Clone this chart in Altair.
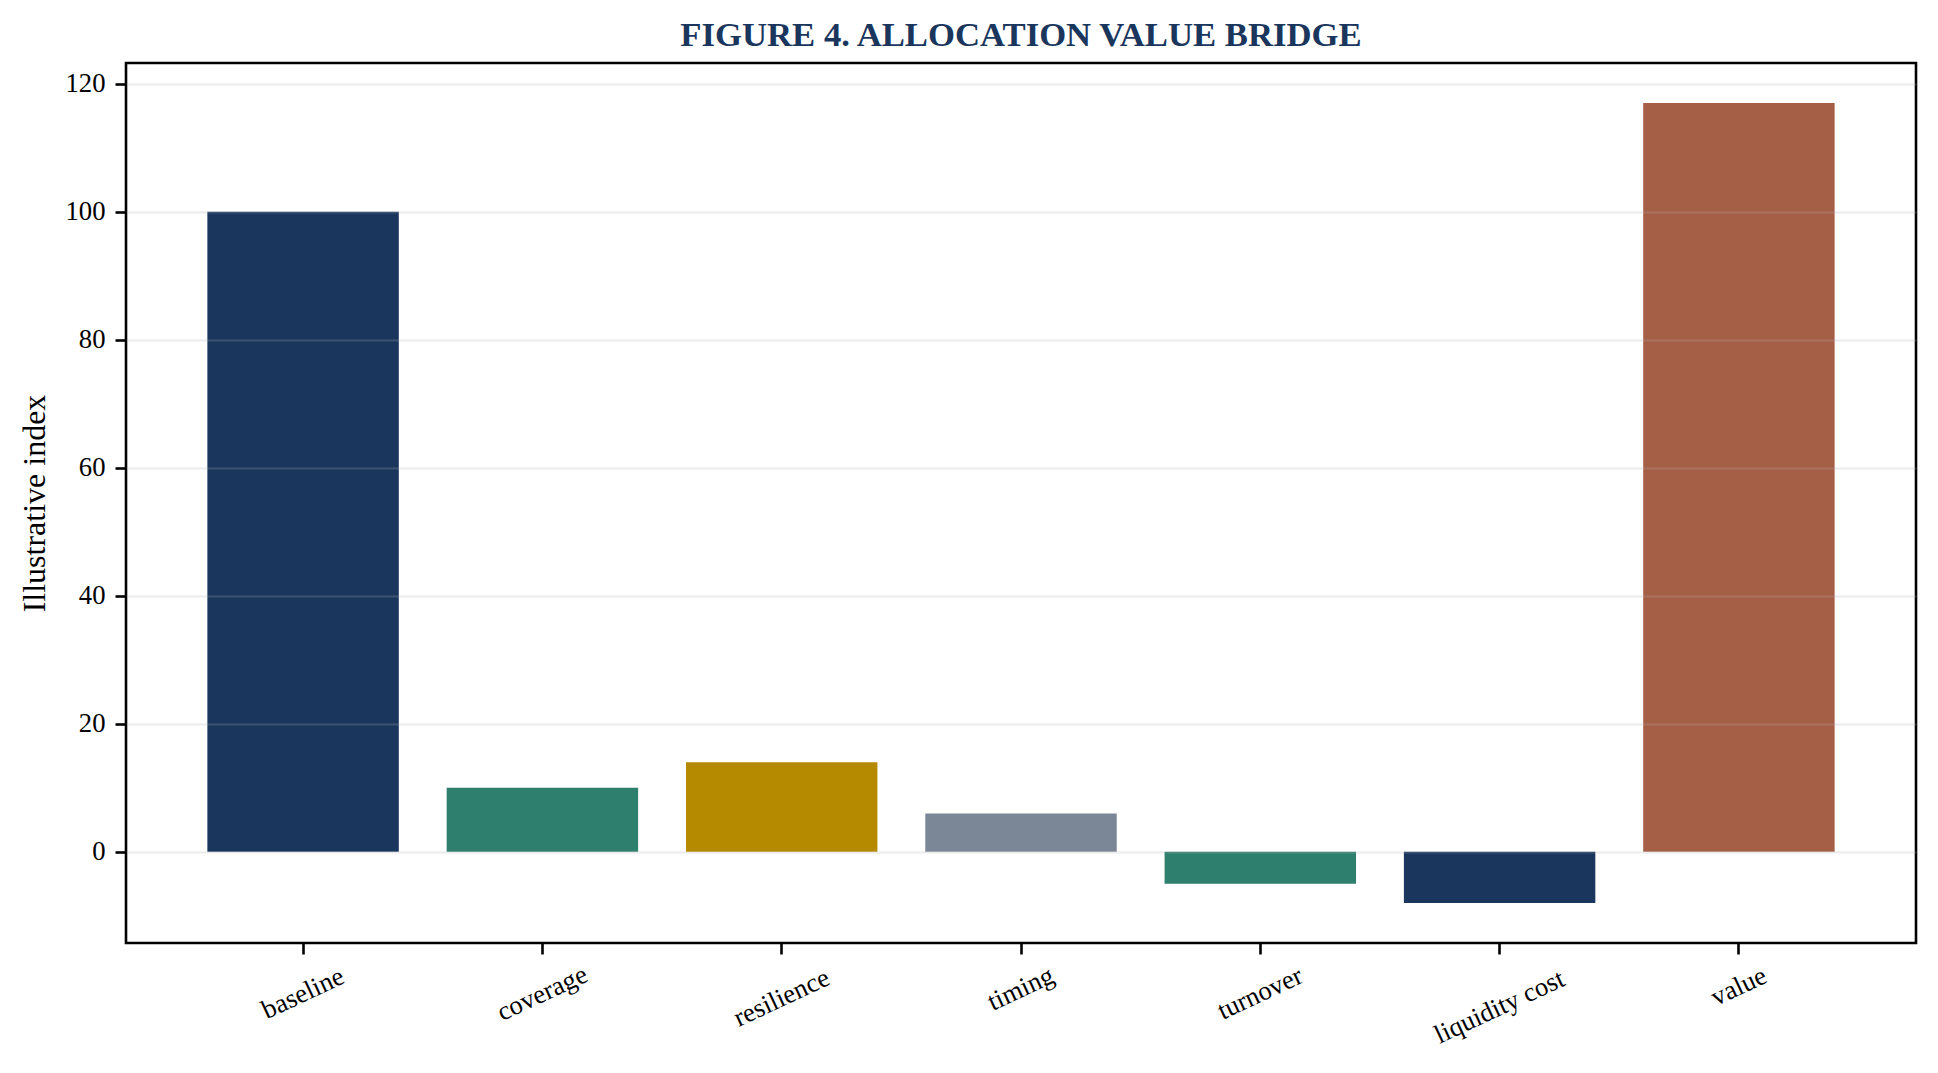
import altair as alt
import pandas as pd

categories = ["baseline", "coverage", "resilience", "timing", "turnover", "liquidity cost", "value"]
values = [100, 10, 14, 6, -5, -8, 117]
bar_colors = ["#1a365d", "#2e7f6e", "#b58900", "#7b8797", "#2e7f6e", "#1a365d", "#a65f47"]
y_ticks = [0, 20, 40, 60, 80, 100, 120]

SERIF = "Liberation Serif"

df = pd.DataFrame({"step": categories, "value": values})

x_axis = alt.Axis(
    labelAngle=335, labelAlign="center", labelBaseline="middle",
    labelPadding={"expr": "21 + 2.26 * length(datum.label)"},
    labelFont=SERIF, labelFontSize=26.7, labelColor="black",
    tickSize=11, tickWidth=2.6, tickColor="black",
    domain=False, grid=False,
)

y_axis = alt.Axis(
    values=y_ticks, labelFont=SERIF, labelFontSize=26.7, labelColor="black",
    labelPadding=10, tickSize=11, tickWidth=2.6, tickColor="black",
    domain=False, grid=True, gridColor="#b0b0b0", gridOpacity=0.25, gridWidth=2,
    titleFont=SERIF, titleFontSize=32, titleFontWeight="normal", titleColor="black",
    titleAngle=270, titleAlign="center", titleBaseline="middle",
    titleX=-92, titleY=440, zindex=1,
)

chart = alt.Chart(df).mark_bar().encode(
    x=alt.X("step:N", sort=categories, title=None,
            scale=alt.Scale(paddingInner=0.2, paddingOuter=0.34), axis=x_axis),
    y=alt.Y("value:Q", title="Illustrative index",
            scale=alt.Scale(domain=[-14.25, 123.25], nice=False, zero=False), axis=y_axis),
    y2=alt.datum(0),
    color=alt.Color("step:N", scale=alt.Scale(domain=categories, range=bar_colors), legend=None),
).properties(
    width=1790, height=880,
    autosize=alt.AutoSizeParams(type="none"),
    padding={"left": 118, "top": 55, "right": 10, "bottom": 110},
    title=alt.TitleParams(
        "FIGURE 4. ALLOCATION VALUE BRIDGE", font=SERIF, fontSize=34.7,
        fontWeight="bold", color="#1a365d", anchor="middle", frame="group",
        baseline="alphabetic", offset=17, dy=35,
    ),
).configure(background="white").configure_view(stroke="black", strokeWidth=2.6)

chart.save("out.html", embed_options={"renderer": "svg", "actions": False})
